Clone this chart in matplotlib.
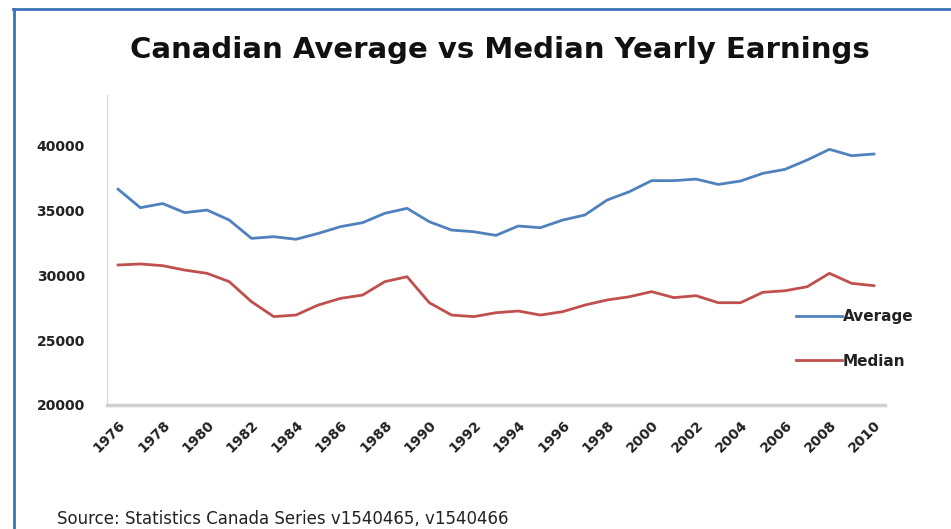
import matplotlib
matplotlib.use("Agg")
import matplotlib.pyplot as plt
from matplotlib.lines import Line2D

years = list(range(1976, 2011))
average = [36600, 35180, 35500, 34800, 35000, 34230, 32820, 32950, 32750, 33200,
           33720, 34030, 34750, 35130, 34100, 33460, 33330, 33050, 33770, 33640,
           34230, 34620, 35770, 36410, 37260, 37260, 37380, 36970, 37230, 37820,
           38130, 38850, 39670, 39180, 39310]
median = [30770, 30850, 30720, 30380, 30130, 29490, 27950, 26800, 26920, 27690,
          28200, 28460, 29490, 29870, 27870, 26920, 26800, 27100, 27230, 26920,
          27180, 27690, 28080, 28330, 28720, 28260, 28410, 27870, 27870, 28670,
          28790, 29100, 30130, 29360, 29180]
yticks = [20000, 25000, 30000, 35000, 40000]
xtick_years = list(range(1976, 2011, 2))

BLUE = "#4F81BD"
RED = "#C0504D"

plt.rcParams['font.family'] = ['DejaVu Sans']

fig = plt.figure(figsize=(9.51, 5.29), dpi=100)
W, H = 951, 529
# axes: x 107..885, y 95..405 (pixels from top)
ax = fig.add_axes([107 / W, 1 - 405 / H, (885 - 107) / W, (405 - 95) / H])

ax.plot(years, average, color=BLUE, lw=2.0, solid_joinstyle='round')
ax.plot(years, median, color=RED, lw=2.0, solid_joinstyle='round')

ax.set_xlim(1975.5, 2010.5)
ax.set_ylim(20000, 43850)
ax.set_yticks(yticks)
ax.set_yticklabels([str(v) for v in yticks], fontsize=10, fontweight='bold', color='#222222')
ax.set_xticks(xtick_years)
ax.set_xticklabels([str(y) for y in xtick_years], rotation=45, ha='right', va='top',
                   rotation_mode='anchor', fontsize=10, fontweight='bold', color='#222222')
ax.tick_params(axis='both', length=0)
ax.tick_params(axis='y', pad=16)
ax.tick_params(axis='x', pad=9)

for s in ['top', 'right']:
    ax.spines[s].set_visible(False)
ax.spines['left'].set_color('#dddddd')
ax.spines['left'].set_linewidth(1.0)
ax.spines['bottom'].set_color('#d0d0d0')
ax.spines['bottom'].set_linewidth(2.5)

fig.text(500 / W, 1 - 50 / H, "Canadian Average vs Median Yearly Earnings",
         ha='center', va='center', fontsize=21, fontweight='bold', color='#111111')

handles = [Line2D([0], [0], color=BLUE, lw=2.0), Line2D([0], [0], color=RED, lw=2.0)]
fig.legend(handles, ["Average", "Median"], loc='center left',
           bbox_to_anchor=(782 / W, 1 - 339 / H), frameon=False,
           prop={'size': 11, 'weight': 'bold'}, handlelength=3.0, handletextpad=0.1,
           labelspacing=1.9, labelcolor='#222222')

fig.text(57 / W, 1 - 519 / H, "Source: Statistics Canada Series v1540465, v1540466",
         ha='left', va='center', fontsize=12, color='#222222')

# frame lines at top and left
fig.add_artist(Line2D([13 / W, 1], [1 - 8.5 / H, 1 - 8.5 / H], color='#3D72B8', lw=2,
                      transform=fig.transFigure))
fig.add_artist(Line2D([13.5 / W, 13.5 / W], [0, 1 - 8.5 / H], color='#3D72B8', lw=2,
                      transform=fig.transFigure))

fig.savefig("out.png", dpi=100)
